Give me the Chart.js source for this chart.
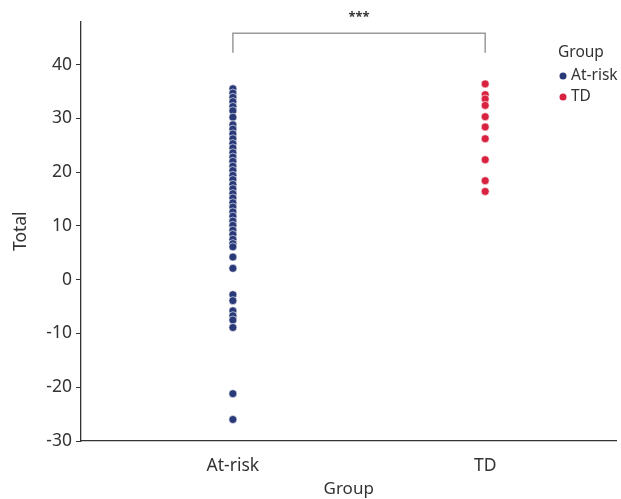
<!DOCTYPE html>
<html>
<head>
<meta charset="utf-8">
<script src="https://cdn.jsdelivr.net/npm/chart.js@4.4.1/dist/chart.umd.min.js"></script>
<style>
  html, body { margin: 0; padding: 0; background: #fff; }
  #wrap { width: 621px; height: 499px; }
</style>
</head>
<body>
<div id="wrap"><canvas id="chart" width="621" height="499"></canvas></div>
<script>
const groups = ["At-risk", "TD"];
const groupColors = ["#2a3a78", "#d9223f"];

// values
const atRiskValues = [35.5, 34.7, 33.9, 33.1, 32.2, 31.4, 30.2,
    28.8, 28.0, 27.1, 26.2, 25.3, 24.5, 23.6, 22.8, 22.0, 21.1, 20.3, 19.4,
    18.6, 17.7, 16.9, 16.0, 15.2, 14.3, 13.5, 12.6, 11.8, 10.9, 10.1, 9.2,
    8.4, 7.5, 6.7, 6.1, 4.2, 2.1, -2.8, -3.9, -5.8, -6.7, -7.5, -8.9, -21.2, -26.0];
const tdValues = [36.4, 34.4, 33.6, 32.4, 30.3, 28.4, 26.2, 22.3, 18.4, 16.4];

const yTicks = [-30, -20, -10, 0, 10, 20, 30, 40];
const axisColor = "#333";
const fontFamily = "'Noto Sans', 'Open Sans', sans-serif";

function toPoints(idx, values) {
    return values.map(v => ({ x: idx, y: v }));
}

const bracketPlugin = {
    id: "bracket",
    afterDraw(chart) {
        const ctx = chart.ctx;
        const xs = chart.scales.x, ys = chart.scales.y;
        const x1 = xs.getPixelForValue(0), x2 = xs.getPixelForValue(1);
        const yTop = ys.getPixelForValue(45.8), yEnd = ys.getPixelForValue(42.2);
        ctx.save();
        ctx.strokeStyle = "#9a9a9a";
        ctx.lineWidth = 1.5;
        ctx.beginPath();
        ctx.moveTo(x1, yEnd);
        ctx.lineTo(x1, yTop);
        ctx.lineTo(x2, yTop);
        ctx.lineTo(x2, yEnd);
        ctx.stroke();
        ctx.fillStyle = "#333";
        ctx.font = "bold 13px " + fontFamily;
        ctx.textAlign = "center";
        ctx.textBaseline = "middle";
        ctx.fillText("***", (x1 + x2) / 2, yTop - 16);

        // legend
        ctx.textAlign = "left";
        ctx.font = "15.5px " + fontFamily;
        ctx.fillStyle = "#333";
        ctx.fillText("Group", 558, 53);
        groups.forEach((g, i) => {
            const y = 76 + i * 21;
            ctx.beginPath();
            ctx.arc(563, y, 3.5, 0, Math.PI * 2);
            ctx.fillStyle = groupColors[i];
            ctx.fill();
            ctx.fillStyle = "#333";
            ctx.fillText(g, 571, y);
        });
        ctx.restore();
    }
};

new Chart(document.getElementById("chart"), {
    type: "scatter",
    data: {
        datasets: [
            {
                label: groups[0],
                data: toPoints(0, atRiskValues),
                backgroundColor: groupColors[0],
                borderColor: "#ffffff",
                borderWidth: 0.6,
                pointRadius: 4
            },
            {
                label: groups[1],
                data: toPoints(1, tdValues),
                backgroundColor: groupColors[1],
                borderColor: "#ffffff",
                borderWidth: 0.6,
                pointRadius: 4
            }
        ]
    },
    options: {
        responsive: false,
        animation: false,
        layout: { padding: { top: 21.5, right: 1, left: 11, bottom: 0 } },
        plugins: {
            legend: { display: false },
            tooltip: { enabled: false }
        },
        scales: {
            x: {
                type: "linear",
                min: -0.602,
                max: 1.52,
                afterBuildTicks: s => { s.ticks = [{ value: 0 }, { value: 1 }]; },
                afterFit: s => { s.height = 58; },
                grid: { display: false, drawTicks: false },
                border: { display: true, color: axisColor, width: 1.3 },
                ticks: {
                    padding: 15,
                    color: "#333",
                    font: { family: fontFamily, size: 17.5 },
                    callback: v => groups[v]
                },
                title: {
                    display: true,
                    text: "Group",
                    color: "#333",
                    font: { family: fontFamily, size: 17 },
                    padding: { top: 0, bottom: 0 }
                }
            },
            y: {
                min: -30,
                max: 48,
                afterBuildTicks: s => { s.ticks = yTicks.map(v => ({ value: v })); },
                afterFit: s => { s.width = 70; },
                grid: { drawOnChartArea: false, drawTicks: true, tickLength: 5, color: axisColor },
                border: { display: true, color: axisColor, width: 1.3 },
                ticks: {
                    padding: 4,
                    color: "#333",
                    font: { family: fontFamily, size: 17.5 }
                },
                title: {
                    display: true,
                    text: "Total",
                    color: "#333",
                    font: { family: fontFamily, size: 17.5 },
                    padding: { top: 0, bottom: 2 }
                }
            }
        }
    },
    plugins: [bracketPlugin]
});
</script>
</body>
</html>
